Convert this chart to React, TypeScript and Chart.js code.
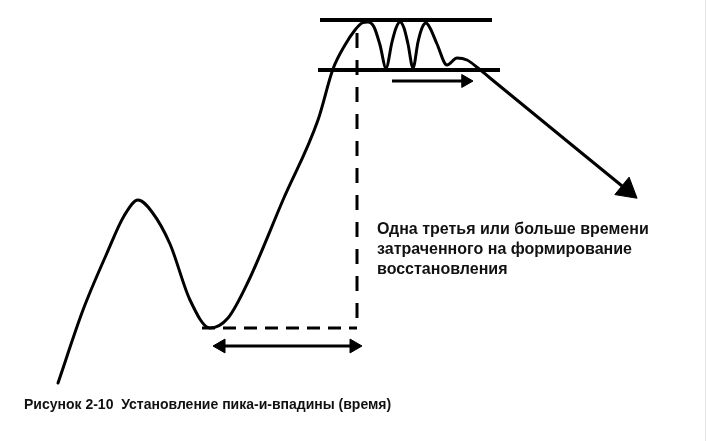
import React, { useEffect, useRef } from "react";
import { Chart, registerables } from "chart.js";

Chart.register(...registerables);

// Price path (time units, price units)
const mainTime = [58, 83, 107, 124, 138, 152, 170, 190, 210, 228, 248, 283, 318, 333, 345, 355, 362, 368, 374, 380, 386, 392, 396, 400, 404, 408, 413, 418, 422, 426, 430, 437, 447, 457, 467, 478, 490, 627];
const mainPrice = [58, 131, 188, 225, 241, 229, 197, 141, 113, 123, 159, 241, 321, 372, 396, 411, 418, 419, 414, 396, 373, 399, 413, 419, 413, 397, 373, 399, 413, 418, 413, 397, 376, 383, 381, 373, 363, 251];

// Range boundaries (resistance / support)
const topLineTime = [320, 492];
const topLinePrice = [421, 421];
const bottomLineTime = [318, 500];
const bottomLinePrice = [371, 371];

// Dashed construction lines
const dashVTime = [357, 357];
const dashVPrice = [408, 113];
const dashHTime = [202, 357];
const dashHPrice = [113, 113];

// Time arrows
const rangeArrowTime = [392, 466];
const rangeArrowPrice = [360, 360];
const spanArrowTime = [220, 355];
const spanArrowPrice = [95, 95];

// Arrow heads: time, price, rotation (deg), radius
const headTime = [465.5, 221, 354, 627];
const headPrice = [360, 95, 95, 251];
const headRotation = [90, 270, 90, 129.3];
const headRadius = [7.5, 8, 8, 13];

const noteLines = [
  "Одна третья или больше времени",
  "затраченного на формирование",
  "восстановления",
];
const caption = "Рисунок 2-10  Установление пика-и-впадины (время)";

const zip = (xs: number[], ys: number[]) => xs.map((x, i) => ({ x, y: ys[i] }));

export default function App() {
  const ref = useRef<HTMLCanvasElement | null>(null);

  useEffect(() => {
    if (!ref.current) return;
    const seg = (xs: number[], ys: number[], width: number, dash: number[] = []) => ({
      data: zip(xs, ys),
      borderColor: "#000",
      borderWidth: width,
      borderDash: dash,
      pointRadius: 0,
      tension: 0,
      fill: false,
    });
    const chart = new Chart(ref.current, {
      type: "line",
      data: {
        datasets: [
          {
            data: zip(mainTime, mainPrice),
            borderColor: "#000",
            borderWidth: 3,
            pointRadius: 0,
            cubicInterpolationMode: "monotone",
            borderJoinStyle: "round",
            borderCapStyle: "round",
            fill: false,
          },
          seg(topLineTime, topLinePrice, 4),
          seg(bottomLineTime, bottomLinePrice, 4),
          seg(dashVTime, dashVPrice, 3, [15, 12]),
          seg(dashHTime, dashHPrice, 3, [13, 8]),
          seg(rangeArrowTime, rangeArrowPrice, 3),
          seg(spanArrowTime, spanArrowPrice, 3),
          {
            data: zip(headTime, headPrice),
            showLine: false,
            pointStyle: "triangle",
            pointRotation: headRotation,
            pointRadius: headRadius,
            pointBackgroundColor: "#000",
            pointBorderColor: "#000",
            pointBorderWidth: 1,
          } as any,
        ],
      },
      options: {
        animation: false,
        responsive: false,
        maintainAspectRatio: false,
        layout: { padding: 0, autoPadding: false },
        plugins: { legend: { display: false }, tooltip: { enabled: false }, title: { display: false } },
        events: [],
        scales: {
          x: { type: "linear", min: 0, max: 707, display: false },
          y: { type: "linear", min: 0, max: 441, display: false },
        },
      },
    });
    return () => chart.destroy();
  }, []);

  const textStyle: React.CSSProperties = {
    position: "absolute",
    fontFamily: "'Liberation Sans', Arial, sans-serif",
    fontWeight: "bold",
    color: "#111",
    whiteSpace: "pre",
  };

  return (
    <div style={{ position: "fixed", left: 0, top: 0, width: 707, height: 441, background: "#fff", overflow: "hidden" }}>
      <canvas ref={ref} width={707} height={441} style={{ position: "absolute", left: 0, top: 0 }} />
      <div style={{ ...textStyle, left: 377, top: 219, fontSize: 16, lineHeight: "20px" }}>
        {noteLines.map((l, i) => (
          <div key={i}>{l}</div>
        ))}
      </div>
      <div style={{ ...textStyle, left: 24, top: 396, fontSize: 14 }}>{caption}</div>
      <div style={{ position: "absolute", left: 705, top: 0, width: 1, height: 441, background: "#e4e4e4" }} />
    </div>
  );
}
